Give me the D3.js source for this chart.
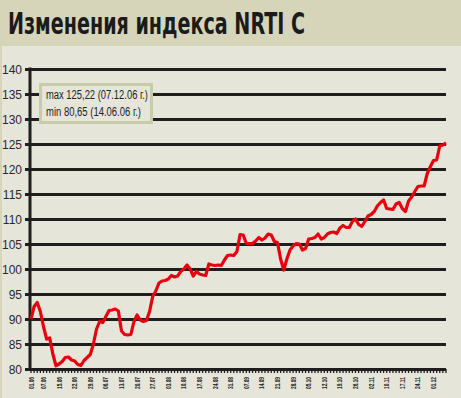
<!DOCTYPE html>
<html><head><meta charset="utf-8">
<script src="https://cdn.jsdelivr.net/npm/d3@7"></script>
<style>
html,body{margin:0;padding:0;background:#d6d5ba;}
svg{display:block;}
</style></head>
<body>
<svg id="chart" width="461" height="398"></svg>
<script>
// ---- data ----
const title = "Изменения индекса NRTI C";
const legendLines = ["max 125,22 (07.12.06 г.)", "min 80,65 (14.06.06 г.)"];
const holidays = ["2006-06-12", "2006-11-06"];
const startDate = "2006-06-01", endDate = "2006-12-07";
const values = [
 90.0, 92.5, 93.3, 91.5, 88.5, 86.0, 86.2, 83.0, 80.65, 81.0,
 81.5, 82.3, 82.4, 81.8, 81.6, 80.9, 80.7, 81.7, 82.3, 82.9,
 85.0, 88.0, 89.5, 89.3, 90.5, 91.7, 91.8, 92.0, 91.6, 87.6,
 86.9, 86.8, 86.9, 89.5, 90.8, 89.8, 89.5, 89.7, 91.5, 94.5,
 95.6, 97.2, 97.6, 97.7, 98.0, 98.7, 98.4, 98.6, 99.5, 100.0,
 100.8, 100.0, 98.6, 99.5, 99.0, 98.8, 98.7, 101.0, 100.8, 100.7,
 100.8, 100.7, 101.8, 102.7, 102.8, 102.7, 103.5, 106.9, 106.8, 105.1,
 105.1, 105.1, 105.6, 106.3, 105.8, 106.2, 107.0, 106.8, 105.5, 105.3,
 102.0, 99.8, 102.0, 103.8, 104.6, 105.1, 105.0, 103.8, 104.1, 106.0,
 106.1, 106.3, 107.0, 106.0, 106.3, 107.0, 107.3, 107.4, 107.1, 108.2,
 108.7, 108.3, 108.3, 109.5, 110.0, 108.9, 108.5, 109.5, 110.6, 110.9,
 111.5, 112.6, 113.3, 113.8, 112.1, 112.0, 111.9, 113.0, 113.3, 112.1,
 111.5, 113.6, 114.4, 115.5, 116.5, 116.6, 116.6, 119.1, 120.5, 121.7,
 121.8, 124.6, 124.8, 125.22
];
const xTickLabels = ["01.06","07.06","15.06","22.06","29.06","06.07","13.07","20.07","27.07",
 "03.08","10.08","17.08","24.08","31.08","07.09","14.09","21.09","28.09","05.10","12.10",
 "19.10","26.10","02.11","10.11","17.11","24.11","01.12"];
const yTicks = [80, 85, 90, 95, 100, 105, 110, 115, 120, 125, 130, 135, 140];

// trading-day categories (weekdays minus holidays)
const fmtKey = d3.timeFormat("%Y-%m-%d"), fmtLbl = d3.timeFormat("%d.%m");
const parse = d3.timeParse("%Y-%m-%d");
const days = d3.timeDay.range(parse(startDate), d3.timeDay.offset(parse(endDate), 1))
  .filter(d => d.getDay() !== 0 && d.getDay() !== 6 && !holidays.includes(fmtKey(d)))
  .map(fmtLbl);
const data = days.map((d, i) => ({day: d, i, v: values[i]}));

// ---- layout ----
const svg = d3.select("#chart");
const L = 31, R = 446, T = 69, B = 369;
const x = d3.scaleLinear().domain([0, days.length - 1]).range([L, R]);
const y = d3.scaleLinear().domain([80, 140]).range([B, T]);

svg.append("rect").attr("x", 0).attr("y", 0).attr("width", 461).attr("height", 398).attr("fill", "#d6d5ba");
svg.append("rect").attr("x", 2).attr("y", 46).attr("width", 459).attr("height", 352).attr("fill", "#e5e5d9");

svg.append("text").attr("x", 8).attr("y", 34)
  .attr("font-family", "'Liberation Sans Narrow','DejaVu Sans Condensed',sans-serif")
  .attr("font-weight", "bold").attr("font-size", 30).attr("fill", "#1b1b1b")
  .attr("textLength", 297).attr("lengthAdjust", "spacingAndGlyphs")
  .text(title);

// y axis with gridlines
const yAxis = d3.axisLeft(y).tickValues(yTicks).tickSize(-(R - L + 1)).tickPadding(8).tickFormat(d3.format("d"));
const gy = svg.append("g").attr("transform", `translate(${L - 1},0)`).call(yAxis);
gy.select(".domain").remove();
gy.selectAll(".tick line").attr("stroke", "#1e1e1e").attr("stroke-width", 3).attr("x1", -5);
gy.selectAll(".tick text").attr("font-family", "'Liberation Sans Narrow',sans-serif")
  .attr("font-size", 12).attr("fill", "#2a2a2a").attr("dy", "0.35em").attr("x", -8);
svg.append("line").attr("x1", L - 1).attr("x2", L - 1).attr("y1", y(140) - 1.5).attr("y2", y(80) + 1.5)
  .attr("stroke", "#1e1e1e").attr("stroke-width", 3);

// x axis: dense day ticks + weekly labels
const gx = svg.append("g").attr("transform", `translate(0,${B})`);
gx.selectAll("line.day").data(data).join("line").attr("class", "day")
  .attr("x1", d => x(d.i)).attr("x2", d => x(d.i)).attr("y1", 0).attr("y2", 4)
  .attr("stroke", "#1e1e1e").attr("stroke-width", 1.3);
gx.selectAll("text.lbl").data(xTickLabels).join("text").attr("class", "lbl")
  .attr("transform", d => `translate(${x(days.indexOf(d)) + 2.5},8) rotate(-90)`)
  .attr("text-anchor", "end")
  .attr("font-family", "'Liberation Sans Narrow',sans-serif").attr("font-weight", "bold")
  .attr("font-size", 7).attr("fill", "#1b1b1b")
  .attr("textLength", 12).attr("lengthAdjust", "spacingAndGlyphs")
  .text(d => d);

// line
svg.append("path").datum(data)
  .attr("d", d3.line().x(d => x(d.i)).y(d => y(d.v)))
  .attr("fill", "none").attr("stroke", "#e8000f").attr("stroke-width", 3.2)
  .attr("stroke-linejoin", "round");

// legend box
const legendWidths = [102, 95];
const lg = svg.append("g");
lg.append("rect").attr("x", 40.5).attr("y", 84.5).attr("width", 111).attr("height", 38)
  .attr("fill", "#e5e5d9").attr("stroke", "#c9caa6").attr("stroke-width", 3);
lg.selectAll("text").data(legendLines).join("text")
  .attr("x", 46).attr("y", (d, i) => 99 + i * 17)
  .attr("font-family", "'Liberation Sans Narrow',sans-serif")
  .attr("font-size", 12).attr("fill", "#222")
  .attr("textLength", (d, i) => legendWidths[i]).attr("lengthAdjust", "spacingAndGlyphs")
  .text(d => d);
</script>
</body></html>
